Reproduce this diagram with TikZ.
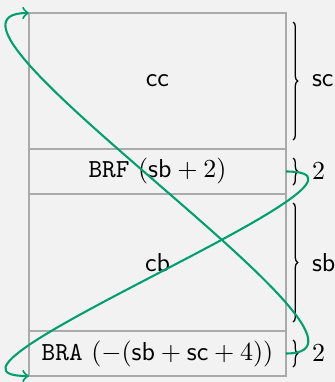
\documentclass[tikz,border=0pt]{standalone}
\usetikzlibrary{calc,decorations.pathreplacing}
\definecolor{bgc}{HTML}{F2F2F2}
\definecolor{rowline}{HTML}{AAAAAA}
\definecolor{arrgreen}{HTML}{00A06E}
\begin{document}
\begin{tikzpicture}[x=0.385pt,y=-0.385pt,
  rowbox/.style={draw=rowline,line width=0.5pt,inner sep=0pt,outer sep=0pt,
    minimum width=257*0.385pt,anchor=north west},
  bracestyle/.style={decorate,decoration={brace,amplitude=1.8pt},line width=0.5pt},
  lbl/.style={anchor=west,inner sep=0pt},
  flow/.style={draw=arrgreen,line width=0.8pt,->}]
\fill[bgc] (0,0) rectangle (335,382);
\useasboundingbox (0,0) rectangle (335,382);
\node[rowbox,minimum height=136*0.385pt] (cc) at (29,13) {$\mathsf{cc}$};
\node[rowbox,minimum height=45*0.385pt] (brf) at (29,149) {\texttt{BRF} $(\mathsf{sb}+2)$};
\node[rowbox,minimum height=137*0.385pt] (cb) at (29,194) {$\mathsf{cb}$};
\node[rowbox,minimum height=45*0.385pt] (bra) at (29,331) {\texttt{BRA} $(-(\mathsf{sb}+\mathsf{sc}+4))$};
\draw[bracestyle] ($(cc.north east)+(7,9)$) -- ($(cc.south east)+(7,-9)$);
\draw[bracestyle] ($(brf.north east)+(7,9)$) -- ($(brf.south east)+(7,-9)$);
\draw[bracestyle] ($(cb.north east)+(7,9)$) -- ($(cb.south east)+(7,-9)$);
\draw[bracestyle] ($(bra.north east)+(7,9)$) -- ($(bra.south east)+(7,-9)$);
\node[lbl] (scl) at ($(cc.east)+(25.5,0)$) {$\mathsf{sc}$};
\node[lbl] (twoa) at ($(brf.east)+(25.5,0)$) {$2$};
\node[lbl] (sbl) at ($(cb.east)+(25.5,0)$) {$\mathsf{sb}$};
\node[lbl] (twob) at ($(bra.east)+(25.5,0)$) {$2$};
\draw[flow] (brf.east) to[out=0,in=180,out distance=52pt,in distance=52pt] (bra.south west);
\draw[flow] (bra.east) to[out=0,in=180,out distance=52pt,in distance=52pt] (cc.north west);
\end{tikzpicture}
\end{document}
